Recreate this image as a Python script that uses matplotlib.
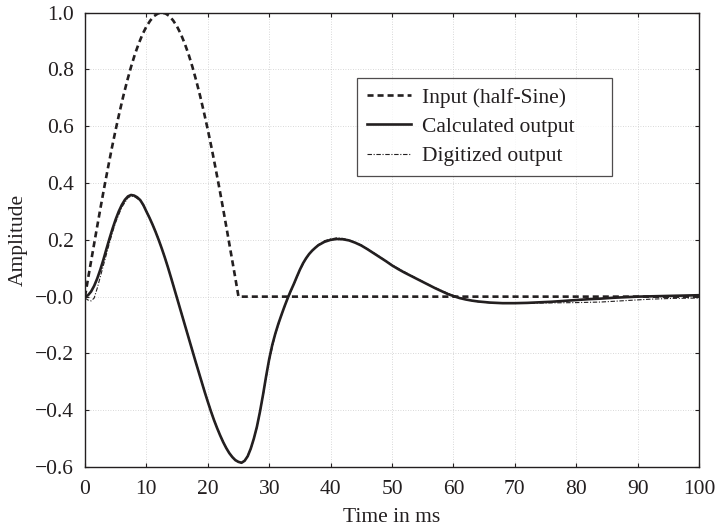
import matplotlib
matplotlib.use("Agg")
import matplotlib.pyplot as plt

plt.rcParams['font.family'] = ['Liberation Serif', 'DejaVu Serif']

# Input (half-sine), 0.625 ms spacing up to 25 ms, then zero
t_in = [0, 0.625, 1.25, 1.875, 2.5, 3.125, 3.75, 4.375, 5, 5.625, 6.25, 6.875, 7.5,
        8.125, 8.75, 9.375, 10, 10.625, 11.25, 11.875, 12.5, 13.125, 13.75, 14.375, 15,
        15.625, 16.25, 16.875, 17.5, 18.125, 18.75, 19.375, 20, 20.625, 21.25, 21.875,
        22.5, 23.125, 23.75, 24.375, 25, 100]
y_in = [0.0, 0.079, 0.156, 0.233, 0.309, 0.383, 0.454, 0.523, 0.588, 0.649, 0.707,
        0.760, 0.809, 0.853, 0.891, 0.924, 0.951, 0.972, 0.988, 0.997, 1.0, 0.997, 0.988,
        0.972, 0.951, 0.924, 0.891, 0.853, 0.809, 0.760, 0.707, 0.649, 0.588, 0.523,
        0.454, 0.383, 0.309, 0.233, 0.156, 0.079, 0.0, 0.0]

# Calculated output
t_calc = [0, 0.5, 1, 1.5, 2, 2.5, 3, 3.5, 4, 4.5, 5, 5.5, 6, 6.5, 7, 7.5, 8, 8.5, 9, 9.5,
          10, 10.5, 11, 11.5, 12, 12.5, 13, 13.5, 14, 14.5, 15, 15.5, 16, 16.5, 17, 17.5,
          18, 18.5, 19, 19.5, 20, 20.5, 21, 21.5, 22, 22.5, 23, 23.5, 24, 24.5, 25, 25.5,
          26, 26.5, 27, 27.5, 28, 28.5, 29, 29.5, 30, 30.5, 31, 31.5, 32, 32.5, 33, 33.5,
          34, 34.5, 35, 35.5, 36, 36.5, 37, 37.5, 38, 39, 40, 41, 42, 43, 44, 45, 46, 47,
          48, 49, 50, 51, 52, 53, 54, 55, 56, 57, 58, 59, 60, 61, 62, 63, 64, 65, 66, 67,
          68, 69, 70, 72, 74, 76, 78, 80, 82, 84, 86, 88, 90, 92, 94, 96, 98, 100]
y_calc = [0.0, 0.005, 0.018, 0.038, 0.064, 0.095, 0.13, 0.168, 0.205, 0.24, 0.272, 0.3,
          0.323, 0.341, 0.353, 0.358, 0.356, 0.35, 0.34, 0.323, 0.30, 0.278, 0.254, 0.228,
          0.2, 0.17, 0.138, 0.104, 0.068, 0.031, -0.006, -0.043, -0.08, -0.117, -0.154,
          -0.191, -0.228, -0.264, -0.3, -0.336, -0.37, -0.403, -0.434, -0.462, -0.488,
          -0.512, -0.533, -0.551, -0.565, -0.576, -0.582, -0.585, -0.578, -0.562, -0.535,
          -0.5, -0.458, -0.405, -0.345, -0.28, -0.22, -0.17, -0.13, -0.095, -0.064,
          -0.034, -0.006, 0.02, 0.044, 0.07, 0.095, 0.117, 0.135, 0.15, 0.162, 0.172,
          0.181, 0.193, 0.2, 0.203, 0.202, 0.198, 0.19, 0.18, 0.167, 0.153, 0.139, 0.125,
          0.11, 0.097, 0.085, 0.074, 0.063, 0.052, 0.041, 0.03, 0.02, 0.01, 0.002, -0.005,
          -0.01, -0.014, -0.017, -0.019, -0.021, -0.022, -0.023, -0.023, -0.023, -0.022,
          -0.02, -0.018, -0.015, -0.012, -0.009, -0.007, -0.004, -0.002, 0.0, 0.001,
          0.002, 0.003, 0.004, 0.005]

# Digitized output
t_dig = [0, 0.5, 1, 1.5, 2, 2.5, 3, 3.5, 4, 4.5, 5, 6, 7, 7.5, 8, 9, 10, 11, 12, 13, 14,
         15, 16, 17, 18, 19, 20, 21, 22, 23, 24, 25, 25.5, 26, 27, 28, 29, 30, 31, 32, 33,
         34, 35, 36, 37, 38, 39, 40, 41, 42, 43, 45, 47, 50, 53, 56, 58, 60, 62, 64, 66,
         68, 70, 73, 76, 80, 84, 88, 92, 96, 100]
y_dig = [-0.005, -0.012, -0.015, -0.005, 0.03, 0.07, 0.11, 0.15, 0.19, 0.228, 0.262,
         0.315, 0.348, 0.354, 0.353, 0.338, 0.302, 0.256, 0.203, 0.14, 0.07, -0.004,
         -0.078, -0.152, -0.226, -0.298, -0.368, -0.433, -0.487, -0.532, -0.566, -0.583,
         -0.586, -0.578, -0.538, -0.462, -0.35, -0.226, -0.133, -0.066, -0.008, 0.042,
         0.093, 0.133, 0.163, 0.183, 0.197, 0.203, 0.207, 0.205, 0.2, 0.182, 0.155,
         0.112, 0.076, 0.042, 0.022, 0.004, -0.01, -0.018, -0.022, -0.024, -0.024,
         -0.023, -0.022, -0.021, -0.019, -0.014, -0.009, -0.006, -0.005]

x_ticks = [0, 10, 20, 30, 40, 50, 60, 70, 80, 90, 100]
y_ticks = [-0.6, -0.4, -0.2, 0.0, 0.2, 0.4, 0.6, 0.8, 1.0]
y_ticklabels = ['\u22120.6', '\u22120.4', '\u22120.2', '\u22120.0', '0.2', '0.4', '0.6', '0.8', '1.0']

fig = plt.figure(figsize=(7.17, 5.28), dpi=100)
ax = fig.add_axes([0.1185, 0.1155, 0.8565, 0.8605])

ink = '#231f20'
fs = 15.5
ax.plot(t_in, y_in, color=ink, lw=1.9, dashes=(2.3, 1.5), label='Input (half-Sine)', zorder=3)
ax.plot(t_calc, y_calc, color=ink, lw=1.9, label='Calculated output', zorder=4)
ax.plot(t_dig, y_dig, color=ink, lw=0.8, dashes=(4, 1.5, 1, 1.5), label='Digitized output', zorder=5)

ax.set_xlim(0, 100)
ax.set_ylim(-0.6, 1.0)
ax.set_xticks(x_ticks)
ax.set_yticks(y_ticks)
ax.set_yticklabels(y_ticklabels)
ax.grid(True, color='#cccccc', linestyle=(0, (1, 2)), linewidth=0.6)
ax.tick_params(direction='in', length=3, width=0.8, labelsize=fs, colors=ink,
               top=True, right=True, pad=8)
ax.tick_params(axis='x', pad=9)
for s in ax.spines.values():
    s.set_linewidth(1.0)
    s.set_color(ink)

ax.set_xlabel('Time in ms', fontsize=fs, color=ink, labelpad=7)
ax.set_ylabel('Amplitude', fontsize=fs, color=ink, labelpad=5)

leg = ax.legend(loc='upper left', bbox_to_anchor=(0.443, 0.648, 0.415, 0.208),
                mode='expand', borderaxespad=0,
                fontsize=fs, frameon=True, fancybox=False, edgecolor=ink,
                handlelength=2.05, borderpad=0.45, labelspacing=0.42, handletextpad=0.5)
leg.get_frame().set_linewidth(0.9)
for txt in leg.get_texts():
    txt.set_color(ink)

fig.savefig('out.png', dpi=100)
